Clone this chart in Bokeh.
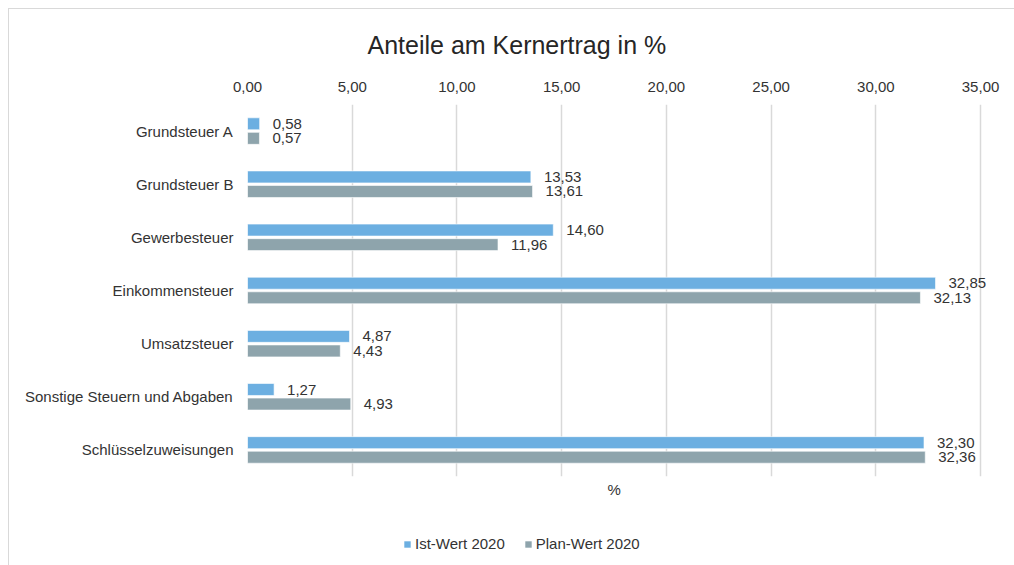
from bokeh.plotting import figure
from bokeh.layouts import column
from bokeh.models import (FactorRange, Range1d, CustomJSTickFormatter, Legend, LegendItem,
                          Title, ColumnDataSource, FixedTicker)
from bokeh.transform import dodge
from bokeh.core.properties import value
from bokeh.embed import file_html
from bokeh.resources import INLINE

categories = ["Grundsteuer A", "Grundsteuer B", "Gewerbesteuer", "Einkommensteuer",
              "Umsatzsteuer", "Sonstige Steuern und Abgaben", "Schlüsselzuweisungen"]
ist_2020 = [0.58, 13.53, 14.60, 32.85, 4.87, 1.27, 32.30]
plan_2020 = [0.57, 13.61, 11.96, 32.13, 4.43, 4.93, 32.36]
x_ticks = [0, 5, 10, 15, 20, 25, 30, 35]
series_names = ["Ist-Wert 2020", "Plan-Wert 2020"]

FONT = "Liberation Sans"
TXT = "#333333"
BLUE = "#6CAFE1"
GRAY = "#8EA4AC"

def fmt(v):
    return f"{v:.2f}".replace(".", ",")

src = ColumnDataSource(dict(
    cat=categories,
    ist=ist_2020,
    plan=plan_2020,
    ist_lbl=[fmt(v) for v in ist_2020],
    plan_lbl=[fmt(v) for v in plan_2020],
))

p = figure(width=1005, height=511,
           y_range=FactorRange(factors=categories[::-1], range_padding=0),
           x_range=Range1d(0, 36), x_axis_location="above",
           output_backend="svg", toolbar_location=None,
           min_border_left=238, min_border_right=13,
           min_border_top=94, min_border_bottom=44)

p.outline_line_color = None
p.background_fill_color = "white"
p.border_fill_color = "white"

off = 0.137
hgt = 0.225
r1 = p.hbar(y=dodge("cat", off, range=p.y_range), left=0, right="ist", height=hgt,
            source=src, fill_color=BLUE, line_color="white", line_alpha=0.6, line_width=1)
r2 = p.hbar(y=dodge("cat", -off, range=p.y_range), left=0, right="plan", height=hgt,
            source=src, fill_color=GRAY, line_color="white", line_alpha=0.6, line_width=1)

p.text(x="ist", y=dodge("cat", off, range=p.y_range), text="ist_lbl", source=src,
       x_offset=13, text_baseline="middle", text_align="left",
       text_font=value(FONT), text_font_size="15px", text_color=TXT)
p.text(x="plan", y=dodge("cat", -off, range=p.y_range), text="plan_lbl", source=src,
       x_offset=13, text_baseline="middle", text_align="left",
       text_font=value(FONT), text_font_size="15px", text_color=TXT)

# grid
p.ygrid.visible = False
p.xgrid.grid_line_color = "#d9d9d9"
p.xgrid.grid_line_width = 1.5
p.xgrid.ticker = FixedTicker(ticks=x_ticks)

# x axis (top)
xa = p.xaxis[0]
xa.ticker = FixedTicker(ticks=x_ticks)
xa.formatter = CustomJSTickFormatter(code="return tick.toFixed(2).replace('.', ',');")
xa.axis_line_color = None
xa.major_tick_line_color = None
xa.minor_tick_line_color = None
xa.major_tick_out = 0
xa.major_label_standoff = 13
xa.major_label_text_font = FONT
xa.major_label_text_font_size = "15px"
xa.major_label_text_color = TXT

# y axis
ya = p.yaxis[0]
ya.axis_line_color = None
ya.major_tick_line_color = None
ya.minor_tick_line_color = None
ya.major_tick_out = 0
ya.major_label_standoff = 14
ya.major_label_text_font = FONT
ya.major_label_text_font_size = "15px"
ya.major_label_text_color = TXT

# title
p.title.text = "Anteile am Kernertrag in %"
p.title.align = "left"
p.title.offset = 120
p.title.text_font = FONT
p.title.text_font_size = "25px"
p.title.text_font_style = "normal"
p.title.text_color = "#262626"
p.title.standoff = 39

# bottom axis title
p.add_layout(Title(text="%", align="left", offset=360, text_font=FONT, text_font_size="15px",
                   text_font_style="normal", text_color=TXT, standoff=4), "below")

# legend strip (separate small figure below the chart)
lf = figure(width=1005, height=45, output_backend="svg", toolbar_location=None,
            min_border=0, min_border_left=0, min_border_right=0,
            min_border_top=0, min_border_bottom=0)
lf.axis.visible = False
lf.grid.visible = False
lf.outline_line_color = None
lf.background_fill_color = "white"
lf.border_fill_color = "white"
lr1 = lf.hbar(y="ist", left=0, right="ist", height=0.5, source=src,
              fill_color=BLUE, line_color=None, visible=False)
lr2 = lf.hbar(y="plan", left=0, right="plan", height=0.5, source=src,
              fill_color=GRAY, line_color=None, visible=False)
legend = Legend(items=[LegendItem(label=series_names[0], renderers=[lr1]),
                       LegendItem(label=series_names[1], renderers=[lr2])],
                orientation="horizontal", location=(156, 13),
                border_line_color=None, background_fill_alpha=0,
                glyph_width=8, glyph_height=8, label_standoff=4, spacing=19,
                label_text_font=FONT, label_text_font_size="15px", label_text_color=TXT,
                padding=0, margin=0)
lf.add_layout(legend, "center")

layout = column(p, lf, spacing=0,
                styles={"margin-left": "8px", "margin-top": "8px",
                        "border-left": "1px solid #d9d9d9", "border-top": "1px solid #d9d9d9"})

open("out.html", "w").write(file_html(layout, INLINE))
